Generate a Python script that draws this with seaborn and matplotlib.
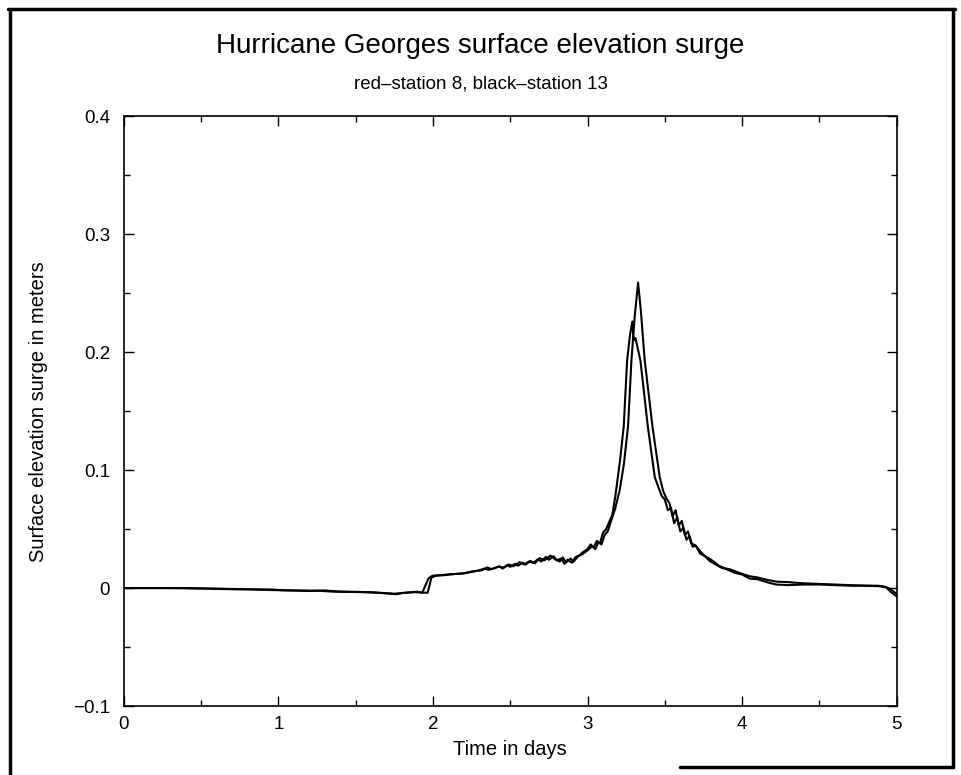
'''
Hurricane Georges surface elevation surge at two stations
'''

import matplotlib
matplotlib.use('Agg')
import matplotlib.pyplot as plt
from matplotlib.lines import Line2D
from matplotlib.ticker import MultipleLocator
import numpy as np
import pandas as pd
import seaborn as sns

# station 8 (peaks first, lower)
time_st8 = [0.00, 0.30, 0.60, 0.80, 0.90, 1.00, 1.10, 1.20, 1.30, 1.40, 1.50, 1.60, 1.70, 1.76, 1.80, 1.86, 1.90,
            1.93, 1.97, 1.99, 2.00, 2.05, 2.10, 2.15, 2.20, 2.25, 2.30, 2.33, 2.36, 2.40, 2.43, 2.45, 2.48, 2.50,
            2.53, 2.55, 2.58, 2.60, 2.63, 2.65, 2.68, 2.70, 2.73, 2.75, 2.78, 2.80, 2.83, 2.85, 2.87, 2.90, 2.92,
            2.95, 2.97, 3.00, 3.02, 3.04, 3.06, 3.08, 3.10, 3.12, 3.14, 3.16, 3.18, 3.21, 3.234, 3.256, 3.275,
            3.29, 3.298, 3.31, 3.342, 3.39, 3.435, 3.46, 3.48, 3.50, 3.52, 3.54, 3.56, 3.58, 3.60, 3.62, 3.64,
            3.66, 3.68, 3.70, 3.73, 3.76, 3.79, 3.83, 3.87, 3.92, 3.96, 4.00, 4.05, 4.10, 4.16, 4.22, 4.30,
            4.40, 4.50, 4.60, 4.70, 4.80, 4.90, 4.95, 4.98, 5.00]
surge_st8 = [0.000, 0.000, -0.0005, -0.001, -0.0015, -0.0018, -0.002, -0.0025, -0.002, -0.003, -0.0032, -0.0035,
             -0.0045, -0.0052, -0.0042, -0.0035, -0.0030,
             -0.004, 0.008, 0.010, 0.0105, 0.011, 0.0115, 0.012, 0.0125, 0.014, 0.0150, 0.0165, 0.0155, 0.0170,
             0.0185, 0.0165, 0.0195, 0.0180, 0.0205, 0.0190, 0.0215, 0.0200, 0.0230, 0.0215, 0.0245, 0.0225,
             0.0265, 0.0240, 0.0270, 0.0235, 0.0250, 0.0205, 0.0240, 0.0215, 0.0260, 0.0280, 0.0305, 0.0330,
             0.0370, 0.0345, 0.0400, 0.0380, 0.0470, 0.0500, 0.0560, 0.0620, 0.0780, 0.1080, 0.137, 0.193,
             0.215, 0.226, 0.210, 0.212, 0.193, 0.137, 0.094, 0.085, 0.078, 0.075, 0.066, 0.068, 0.055, 0.060,
             0.048, 0.051, 0.041, 0.044, 0.035, 0.036, 0.029, 0.027, 0.023, 0.020, 0.017, 0.016, 0.014, 0.012,
             0.010, 0.009, 0.007, 0.0055, 0.005, 0.004, 0.0035, 0.003, 0.0025, 0.002, 0.0015, 0.000, -0.003,
             -0.005]

# station 13 (peaks later, higher)
time_st13 = [0.00, 0.40, 0.70, 0.95, 1.05, 1.25, 1.35, 1.55, 1.65, 1.75, 1.82, 1.88, 1.965, 1.99, 2.02, 2.08,
             2.12, 2.18, 2.24, 2.28, 2.32, 2.35, 2.38, 2.42, 2.46, 2.49, 2.52, 2.56, 2.59, 2.62, 2.66, 2.69, 2.72,
             2.76, 2.79, 2.82, 2.84, 2.86, 2.89, 2.91, 2.94, 2.97, 3.00, 3.03, 3.05, 3.07, 3.09, 3.11, 3.13,
             3.15, 3.18, 3.208, 3.235, 3.262, 3.284, 3.305, 3.327, 3.345, 3.37, 3.42, 3.467, 3.49, 3.51, 3.53,
             3.55, 3.57, 3.59, 3.61, 3.63, 3.65, 3.67, 3.70, 3.73, 3.76, 3.80, 3.85, 3.90, 3.95, 4.00, 4.05,
             4.10, 4.16, 4.22, 4.30, 4.40, 4.50, 4.60, 4.70, 4.80, 4.88, 4.93, 4.96, 5.00]
surge_st13 = [0.000, 0.000, -0.001, -0.0012, -0.002, -0.0022, -0.003, -0.0035, -0.004, -0.0048, -0.004, -0.0035,
              -0.004, 0.009, 0.0105, 0.011, 0.0118, 0.0122, 0.0135, 0.0145, 0.0152, 0.0175, 0.0160, 0.0180,
              0.0175, 0.0200, 0.0185, 0.0220, 0.0200, 0.0225, 0.0210, 0.0255, 0.0235, 0.0275, 0.0245, 0.0225,
              0.0260, 0.0215, 0.0250, 0.0225, 0.0270, 0.0290, 0.0320, 0.0355, 0.0330, 0.0390, 0.0370, 0.0450,
              0.0480, 0.0560, 0.0680, 0.083, 0.105, 0.137, 0.193, 0.230, 0.259, 0.235, 0.193, 0.137, 0.094,
              0.082, 0.076, 0.072, 0.061, 0.066, 0.053, 0.057, 0.045, 0.048, 0.038, 0.036, 0.031, 0.027, 0.024,
              0.019, 0.016, 0.013, 0.0115, 0.008, 0.0075, 0.005, 0.0030, 0.0025, 0.003, 0.003, 0.0025, 0.002,
              0.002, 0.002, 0.001, -0.003, -0.007]

x_ticks = [0, 1, 2, 3, 4, 5]
x_ticklabels = ['0', '1', '2', '3', '4', '5']
y_ticks = [-0.1, 0, 0.1, 0.2, 0.3, 0.4]
y_ticklabels = ['\u22120.1', '0', '0.1', '0.2', '0.3', '0.4']

sns.set_theme(style='ticks')
plt.rcParams['font.family'] = ['Liberation Sans', 'DejaVu Sans']
plt.rcParams['xtick.direction'] = 'in'
plt.rcParams['ytick.direction'] = 'in'

df8 = pd.DataFrame({'t': time_st8, 's': surge_st8})
df13 = pd.DataFrame({'t': time_st13, 's': surge_st13})

fig = plt.figure(figsize=(9.61, 7.75), dpi=100)
ax = fig.add_axes([0.129, 0.089, 0.804, 0.761])
sns.lineplot(data=df8, x='t', y='s', ax=ax, color='black', lw=1.5, sort=False)
sns.lineplot(data=df13, x='t', y='s', ax=ax, color='black', lw=1.5, sort=False)

ax.set_xlim(0, 5)
ax.set_ylim(-0.1, 0.4)
ax.set_xticks(x_ticks)
ax.set_xticklabels(x_ticklabels)
ax.set_yticks(y_ticks)
ax.set_yticklabels(y_ticklabels)
ax.xaxis.set_minor_locator(MultipleLocator(0.5))
ax.yaxis.set_minor_locator(MultipleLocator(0.05))
ax.tick_params(which='both', top=True, right=True, color='black', labelsize=13.5, labelcolor='black')
ax.tick_params(which='major', length=7, width=1)
ax.tick_params(which='minor', length=4, width=1)
ax.tick_params(axis='x', pad=7)
ax.tick_params(axis='y', pad=10)
for sp in ax.spines.values():
    sp.set_color('black')
    sp.set_linewidth(1.2)

ax.set_xlabel('Time in days', fontsize=14.5, color='black', labelpad=5)
ax.set_ylabel('Surface elevation surge in meters', fontsize=14.5, color='black', labelpad=18)

fig.text(0.5, 0.941, 'Hurricane Georges surface elevation surge', ha='center', va='center',
         fontsize=20, color='black')
fig.text(0.5, 0.892, 'red\u2013station 8, black\u2013station 13', ha='center', va='center',
         fontsize=13.5, color='black')

# scanned page frame
W, H = 961.0, 775.0
frame = [((10, 10), (0, 766)), ((8, 955), (766, 766)), ((953, 953), (766, 8)), ((680, 953), (8, 8))]
for xs, ys in frame:
    fig.add_artist(Line2D([x / W for x in xs], [y / H for y in ys], color='black', lw=2.5,
                          transform=fig.transFigure))

fig.savefig('out.png', dpi=100, facecolor='white')
